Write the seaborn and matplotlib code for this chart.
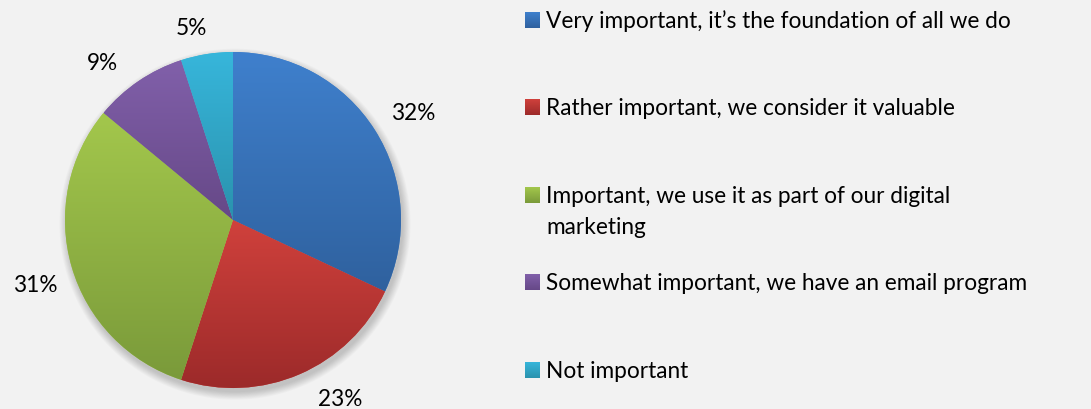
import numpy as np
import pandas as pd
import matplotlib
matplotlib.use("Agg")
import matplotlib.pyplot as plt
import seaborn as sns
from matplotlib.colors import LinearSegmentedColormap
from matplotlib.patches import Circle

# --- data -------------------------------------------------------------
categories = [
    "Very important, it\u2019s the foundation of all we do",
    "Rather important, we consider it valuable",
    "Important, we use it as part of our digital\nmarketing",
    "Somewhat important, we have an email program",
    "Not important",
]
shares = [32, 23, 31, 9, 5]
pct_labels = ["32%", "23%", "31%", "9%", "5%"]

# top / bottom shades of each slice's vertical gradient
top_colors = ["#3F80CD", "#D0413C", "#A3C74C", "#8160AA", "#37B6DB"]
bottom_colors = ["#2F619E", "#9C2A2A", "#7A9A3A", "#664887", "#2A92AD"]

df = pd.DataFrame({"category": categories, "share": shares, "label": pct_labels})

# --- style ------------------------------------------------------------
BG = "#F2F2F2"
sns.set_theme(style="white", rc={"figure.facecolor": BG, "axes.facecolor": BG,
                                 "savefig.facecolor": BG})
plt.rcParams["font.family"] = ["Lato", "DejaVu Sans"]
FS = 16.3
palette = sns.color_palette(top_colors)

W, H, DPI = 1091, 409, 100
fig = plt.figure(figsize=(W / DPI, H / DPI), dpi=DPI)

# pie axes: centre and radius laid out in pixels
cx, cy, R = 233, H - 220, 168
xlim, ylim = (-1.38, 1.38), (-1.12, 1.3)
ax = fig.add_axes([(cx + xlim[0] * R) / W, (cy + ylim[0] * R) / H,
                   (xlim[1] - xlim[0]) * R / W, (ylim[1] - ylim[0]) * R / H])

# soft drop shadow under the pie
for i in range(10):
    ax.add_patch(Circle((0.012, -0.025), 1.0 + 0.005 * i, color="black",
                        alpha=0.018, lw=0, zorder=0))

wedges, _ = ax.pie(df["share"], colors=palette, startangle=90, counterclock=False,
                   radius=1, wedgeprops=dict(linewidth=0))

grad = np.linspace(0, 1, 256).reshape(-1, 1)
for w, c0, c1 in zip(wedges, top_colors, bottom_colors):
    w.set_zorder(2)
    bb = w.get_path().get_extents()
    cmap = LinearSegmentedColormap.from_list("g", [c0, c1])
    im = ax.imshow(grad, cmap=cmap, extent=(bb.x0, bb.x1, bb.y0, bb.y1),
                   origin="upper", aspect="auto", interpolation="bilinear", zorder=3)
    im.set_clip_path(w)

# percentage labels placed around each slice's mid-angle
label_dist = [1.249, 1.232, 1.239, 1.226, 1.176]
angle_nudge = [-1.4, 7.7, 1.7, 5.3, 3.2]
for w, txt, d, nudge in zip(wedges, df["label"], label_dist, angle_nudge):
    mid = np.deg2rad((w.theta1 + w.theta2) / 2 + nudge)
    ax.text(d * np.cos(mid), d * np.sin(mid) - 8.5 / R, txt, ha="center",
            va="baseline", fontsize=FS, color="black", zorder=5)

ax.set_xlim(*xlim)
ax.set_ylim(*ylim)
ax.set_aspect("auto")
ax.axis("off")

# --- legend drawn on a pixel-space overlay ------------------------------
lax = fig.add_axes([0, 0, 1, 1], facecolor="none")
first_baseline, step, line_gap = 27.7, 87.5, 31
for i, (cat, c0, c1) in enumerate(zip(df["category"], top_colors, bottom_colors)):
    base = first_baseline + i * step
    cmap = LinearSegmentedColormap.from_list("g", [c0, c1])
    lax.imshow(grad, cmap=cmap, extent=(525, 540, base, base - 15.5),
               origin="upper", aspect="auto", interpolation="bilinear")
    for j, line in enumerate(cat.split("\n")):
        lax.text(546.5, base + j * line_gap, line, ha="left", va="baseline",
                 fontsize=FS, color="black")
lax.set_xlim(0, W)
lax.set_ylim(H, 0)
lax.axis("off")

fig.savefig("out.png", dpi=DPI, facecolor=BG)
